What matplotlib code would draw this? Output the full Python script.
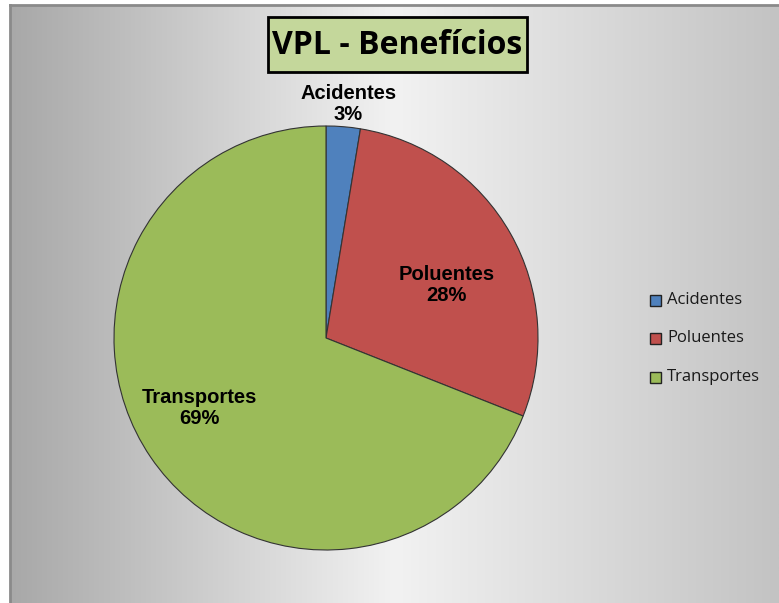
import numpy as np
import matplotlib.pyplot as plt
from matplotlib.patches import Rectangle

# dados do gráfico
categorias = ['Acidentes', 'Poluentes', 'Transportes']
valores = [2.6, 28.4, 69.0]
cores = ['#4f81bd', '#c0504d', '#9bbb59']
rotulos_pct = ['3%', '28%', '69%']

W, H = 779, 603
fig = plt.figure(figsize=(W / 100, H / 100), dpi=100)
fig.patch.set_facecolor('white')

# fundo com gradiente horizontal
bg = fig.add_axes([10 / W, 0, 1 - 10 / W, 1 - 5 / H])
xs = np.linspace(10, W, 400)
g = np.where(xs < 395, 168 + (242 - 168) * (xs - 10) / 385,
             242 - (242 - 195) * (xs - 395) / (W - 395)) / 255
img = np.tile(g, (2, 1))
bg.imshow(np.dstack([img, img, img]), aspect='auto', extent=[0, 1, 0, 1])
bg.set_xlim(0, 1)
bg.set_ylim(0, 1)
bg.set_xticks([])
bg.set_yticks([])
for s in ['right', 'bottom']:
    bg.spines[s].set_visible(False)
for s in ['top', 'left']:
    bg.spines[s].set_color('#8a8a8a')
    bg.spines[s].set_linewidth(2)

# pizza
cx, cy, r = 326, 338, 212
ax = fig.add_axes([(cx - r) / W, (H - cy - r) / H, 2 * r / W, 2 * r / H])
ax.set_facecolor('none')
wedges, _ = ax.pie(valores, colors=cores, startangle=90, counterclock=False,
                   wedgeprops=dict(edgecolor='#333333', linewidth=0.8))
ax.set_xlim(-1, 1)
ax.set_ylim(-1, 1)
ax.axis('off')

# posição dos rótulos (distância do centro, deslocamento angular)
dist = [1.11, 0.62, 0.68]
desloc = [-0.7, -5.7, -5.3]
for w, nome, pct, d, da in zip(wedges, categorias, rotulos_pct, dist, desloc):
    ang = np.deg2rad((w.theta1 + w.theta2) / 2 + da)
    ax.text(d * np.cos(ang), d * np.sin(ang), f'{nome}\n{pct}', ha='center', va='center',
            fontsize=14.5, fontweight='bold', family='Liberation Sans', linespacing=1.15,
            clip_on=False)

# título
fig.patches.append(Rectangle((268 / W, 1 - 72 / H), 259 / W, 55 / H, transform=fig.transFigure,
                             facecolor='#c4d79b', edgecolor='black', linewidth=2))
fig.text(397 / W, 1 - 46 / H, 'VPL - Benefícios', ha='center', va='center',
         fontsize=23, fontweight='bold', family='Open Sans', color='black')

# legenda
ys = [300, 338, 377]
for nome, cor, y in zip(categorias, cores, ys):
    fig.patches.append(Rectangle((650 / W, 1 - (y + 6) / H), 11 / W, 11 / H,
                                 transform=fig.transFigure, facecolor=cor,
                                 edgecolor='#222222', linewidth=1))
    fig.text(667 / W, 1 - y / H, nome, ha='left', va='center', fontsize=12,
             family='Open Sans', color='#1a1a1a')

fig.savefig('out.png', dpi=100)
